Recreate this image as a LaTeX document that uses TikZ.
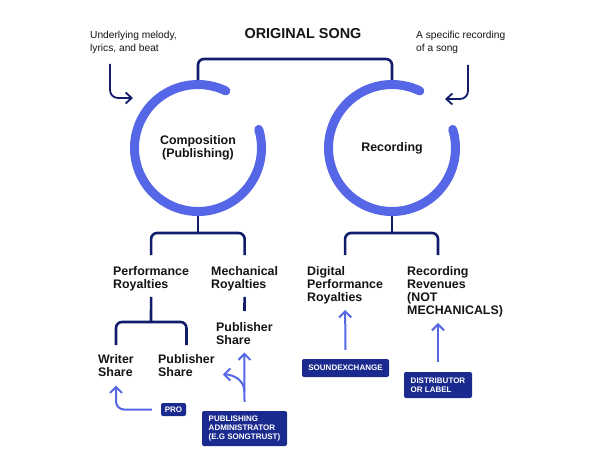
\documentclass[tikz,border=0pt]{standalone}
\usepackage{fontspec}
\setmainfont{Liberation Sans}
\usetikzlibrary{arrows.meta,positioning,calc}
\definecolor{ink}{HTML}{141414}
\definecolor{navy}{HTML}{111C6A}
\definecolor{royal}{HTML}{1B2A8E}
\definecolor{ringblue}{HTML}{5567E6}
\tikzset{ring/.style={line width=9pt,draw=ringblue,line cap=round},link/.style={line width=2.6pt,draw=navy,rounded corners=6pt},flow/.style={line width=2pt,draw=ringblue,rounded corners=8pt,-{Straight Barb[length=6pt,width=12pt]}},note/.style={line width=1.8pt,draw=navy,rounded corners=8pt,-{Straight Barb[length=6pt,width=11pt]}},head/.style={inner sep=0pt,align=left,text=ink,font=\bfseries\fontsize{12.4}{13}\selectfont},aside/.style={inner sep=0pt,align=left,text=ink,font=\fontsize{10.2}{13}\selectfont},badge/.style={fill=royal,text=white,rounded corners=2pt,inner sep=0pt,align=left,font=\bfseries\fontsize{8}{9}\selectfont}}
\begin{document}
\begin{tikzpicture}[x=1pt,y=-1pt]
\useasboundingbox[fill=white] (0,0) rectangle (600,460);
\node[font=\bfseries\fontsize{14.4}{16}\selectfont,text=ink,inner sep=0pt,anchor=base] (title) at (303,39) {ORIGINAL SONG};
\node[aside,anchor=north west] (melody) at (90,31) {Underlying melody,\\lyrics, and beat};
\node[aside,anchor=north west] (spec) at (416,31) {A specific recording\\of a song};
\node[circle,minimum size=136pt,head,align=center] (comp) at (198,148) {Composition\\(Publishing)};
\node[circle,minimum size=136pt,head,align=center] (rec) at (392,148) {Recording};
\draw[ring] (comp.center) ++(-17:63.5) arc[start angle=-17,end angle=296,radius=63.5];
\draw[ring] (rec.center) ++(-17:63.5) arc[start angle=-17,end angle=296,radius=63.5];
\node[head,anchor=north west] (perf) at (113,266) {Performance\\Royalties};
\node[head,anchor=north west] (mech) at (211,266) {Mechanical\\Royalties};
\node[head,anchor=north west] (writer) at (98,354) {Writer\\Share};
\node[head,anchor=north west] (pubp) at (158,354) {Publisher\\Share};
\node[head,anchor=north west] (pubm) at (216,322) {Publisher\\Share};
\node[head,anchor=north west] (digital) at (307,266) {Digital\\Performance\\Royalties};
\node[head,anchor=north west] (revenue) at (407,266) {Recording\\Revenues\\(NOT\\MECHANICALS)};
\node[badge,align=center,minimum width=25pt,minimum height=13pt] (pro) at (173.5,409.5) {PRO};
\node[badge,minimum width=85pt,minimum height=35pt] (admin) at (244.5,428.5) {PUBLISHING\\ADMINISTRATOR\\(E.G SONGTRUST)};
\node[badge,minimum width=87pt,minimum height=18pt] (sx) at (345.5,368) {SOUNDEXCHANGE};
\node[badge,minimum width=68pt,minimum height=26pt] (dist) at (438,385) {DISTRIBUTOR\\OR LABEL};
\coordinate (songjoin) at (295,59);
\coordinate (compfork) at (198,233);
\coordinate (perffork) at (151,322);
\coordinate (recfork) at (392,233);
\coordinate (compin) at (133,98);
\coordinate (recin) at (445,99);
\draw[link] (comp.north) |- (songjoin) -| (rec.north);
\draw[link] (comp.south) -- (compfork);\draw[link] ([yshift=11pt]perf.north) |- (compfork) -| ([yshift=11pt]mech.north);
\draw[link] ([yshift=-6pt]perf.south) -- (perffork);\draw[link] ([yshift=9pt]writer.north) |- (perffork) -| ([yshift=9pt]pubp.north);
\draw[link] ([yshift=-6pt]mech.south) -- ([yshift=11pt]pubm.north);
\draw[link] (rec.south) -- (recfork);\draw[link] ([yshift=11pt]digital.north) |- (recfork) -| ([xshift=31pt,yshift=11pt]revenue.north west);
\draw[note] ([xshift=20pt,yshift=-10pt]melody.south west) |- (compin);
\draw[note] ([xshift=52pt,yshift=-11pt]spec.south west) |- (recin);
\draw[flow] ([xshift=-9pt]pro.west) -| ([yshift=-9pt]writer.south);
\draw[flow] ([yshift=9pt]admin.north) -- ([yshift=-8pt]pubm.south);
\draw[flow] ([yshift=19pt]admin.north) .. controls +(0,-12) and +(10,0) .. ([xshift=8pt,yshift=2pt]pubp.south east);
\draw[flow] ([yshift=9pt]sx.north) -- ([yshift=-6pt]digital.south);
\draw[flow] ([yshift=10pt]dist.north) -- ([xshift=31pt,yshift=-6pt]revenue.south west);
\end{tikzpicture}
\end{document}
